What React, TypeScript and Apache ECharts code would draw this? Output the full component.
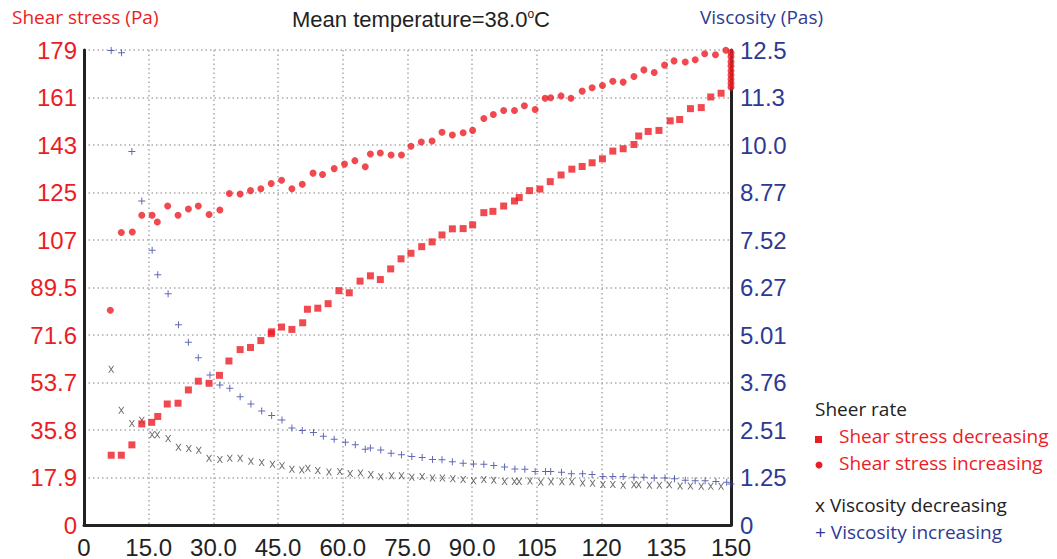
import React, { useEffect, useRef } from "react";
import * as echarts from "echarts";

// ---- Data (shear rate, s^-1) ----
const decStressX = [6.3, 8.65, 11.1, 13.4, 15.7, 17.1, 19.3, 21.8, 24.2, 26.5, 29.0, 31.4, 33.6, 36.2, 38.6, 41.0, 43.4, 43.5, 45.8, 48.2, 50.7, 51.8, 54.2, 56.6, 59.1, 61.5, 64.0, 66.4, 68.7, 71.1, 73.5, 75.8, 78.3, 80.7, 83.0, 85.4, 87.9, 90.1, 92.7, 94.8, 97.3, 99.8, 100.9, 103.3, 105.7, 108.1, 110.6, 113.1, 115.5, 117.8, 120.2, 122.6, 125.0, 127.5, 128.6, 130.8, 133.3, 135.9, 138.1, 140.6, 143.1, 145.3, 147.7];
const decStressY = [26.3, 26.3, 30.2, 38.1, 38.7, 40.9, 45.6, 45.9, 50.9, 54.2, 53.4, 56.4, 61.8, 66.1, 66.9, 69.5, 72.1, 72.8, 74.6, 73.7, 76.2, 81.3, 81.7, 83.4, 88.3, 87.5, 91.9, 93.9, 92.5, 96.5, 100.3, 102.4, 104.9, 106.7, 109.3, 111.6, 111.7, 113.1, 117.7, 118.2, 120.2, 122.1, 123.4, 126.0, 126.6, 129.4, 131.9, 134.1, 135.1, 136.5, 138.0, 140.9, 141.8, 143.4, 146.6, 148.3, 148.7, 152.3, 152.8, 156.9, 157.3, 161.3, 162.7];

const incStressX = [6.1, 8.65, 11.2, 13.4, 15.8, 17.0, 19.4, 21.8, 24.2, 26.5, 29.0, 31.5, 33.7, 36.2, 38.6, 41.0, 43.4, 45.8, 48.2, 50.6, 53.1, 55.3, 58.0, 60.4, 62.8, 65.2, 66.4, 68.7, 71.2, 73.6, 75.8, 78.2, 80.7, 83.0, 85.4, 87.9, 90.1, 92.7, 94.9, 97.3, 99.8, 102.1, 104.6, 106.9, 108.2, 110.6, 112.9, 115.5, 117.8, 120.2, 122.6, 125.0, 127.5, 129.8, 132.2, 134.6, 136.8, 139.4, 141.7, 143.9, 146.4, 148.8, 150, 150, 150, 150, 150, 150, 150, 150, 150];
const incStressY = [80.9, 110.2, 110.4, 116.7, 116.7, 114.2, 120.2, 116.7, 119.1, 120.2, 117.0, 118.7, 124.9, 124.7, 126.0, 126.7, 128.7, 129.9, 126.7, 128.4, 132.6, 132.1, 134.3, 136.0, 137.3, 135.0, 139.8, 140.2, 139.4, 139.4, 142.7, 144.3, 144.7, 148.0, 147.0, 147.8, 148.7, 153.2, 154.7, 156.2, 156.2, 158.0, 156.6, 160.8, 161.0, 161.7, 160.8, 163.5, 164.8, 165.6, 167.2, 166.9, 169.0, 171.5, 170.5, 173.3, 174.9, 174.5, 175.3, 177.6, 177.2, 178.9, 178.0, 176.5, 174.6, 173.0, 171.2, 169.6, 168.0, 166.5, 165.0];

const decViscX = [6.3, 8.65, 11.1, 13.4, 15.8, 17.0, 19.5, 21.9, 24.3, 26.6, 29.0, 31.5, 33.8, 36.2, 38.7, 41.2, 43.7, 45.9, 48.2, 50.5, 51.9, 54.2, 56.8, 59.3, 61.7, 64.1, 66.5, 68.8, 71.3, 73.6, 76.0, 78.4, 80.8, 83.1, 85.5, 87.9, 90.3, 92.7, 95.0, 97.5, 99.8, 100.9, 103.4, 105.9, 108.3, 110.8, 113.1, 115.6, 117.9, 120.3, 122.6, 125.0, 127.5, 128.6, 131.1, 133.4, 135.7, 138.2, 140.6, 143.1, 145.3, 147.7];
const decViscY = [4.11, 3.03, 2.68, 2.76, 2.38, 2.38, 2.28, 2.05, 2.02, 1.97, 1.76, 1.73, 1.76, 1.76, 1.68, 1.65, 1.60, 1.56, 1.47, 1.45, 1.50, 1.44, 1.40, 1.41, 1.36, 1.37, 1.33, 1.27, 1.30, 1.30, 1.26, 1.28, 1.24, 1.24, 1.22, 1.20, 1.17, 1.20, 1.18, 1.15, 1.15, 1.15, 1.16, 1.13, 1.14, 1.14, 1.14, 1.11, 1.10, 1.07, 1.07, 1.05, 1.06, 1.06, 1.05, 1.05, 1.06, 1.03, 1.03, 1.02, 1.02, 1.02];

const incViscX = [6.3, 8.7, 11.1, 13.4, 15.8, 17.1, 19.5, 21.9, 24.2, 26.5, 29.2, 31.5, 33.8, 36.2, 38.7, 41.2, 43.5, 45.9, 48.2, 50.6, 53.2, 55.5, 58.0, 60.6, 62.9, 65.2, 66.4, 68.8, 71.2, 73.6, 76.0, 78.4, 80.8, 83.0, 85.4, 87.9, 90.3, 92.7, 95.0, 97.5, 99.9, 102.2, 104.6, 107.0, 108.2, 110.7, 113.0, 115.6, 117.8, 120.3, 122.6, 125.0, 127.5, 129.8, 132.2, 134.7, 136.9, 139.4, 141.7, 144.0, 146.5, 149.0, 150];
const incViscY = [12.52, 12.46, 9.85, 8.55, 7.25, 6.60, 6.10, 5.28, 4.82, 4.41, 3.96, 3.69, 3.61, 3.38, 3.19, 3.01, 2.89, 2.77, 2.56, 2.49, 2.44, 2.34, 2.26, 2.18, 2.12, 2.00, 2.03, 1.98, 1.89, 1.85, 1.81, 1.78, 1.73, 1.72, 1.67, 1.63, 1.61, 1.60, 1.57, 1.53, 1.48, 1.47, 1.41, 1.41, 1.41, 1.39, 1.35, 1.35, 1.33, 1.28, 1.28, 1.28, 1.26, 1.26, 1.24, 1.24, 1.22, 1.18, 1.17, 1.17, 1.15, 1.13, 1.08];

// ---- Tick labels ----
const xTickLabels = ["0", "15.0", "30.0", "45.0", "60.0", "75.0", "90.0", "105", "120", "135", "150"];
const stressTickLabels = ["0", "17.9", "35.8", "53.7", "71.6", "89.5", "107", "125", "143", "161", "179"];
const viscTickLabels = ["0", "1.25", "2.51", "3.76", "5.01", "6.27", "7.52", "8.77", "10.0", "11.3", "12.5"];

const RED = "#ec1c24";
const BLUE = "#2e3a92";
const DARK = "#222222";

const pairs = (xs: number[], ys: number[]) => xs.map((x, i) => [x, ys[i]]);

const PLUS = "path://M0,3H7V4H0Z M3,0H4V7H3Z";
const CROSS = "path://M0,0L1.3,0L7,8L5.7,8Z M5.7,0L7,0L1.3,8L0,8Z";

export default function App() {
  const ref = useRef<HTMLDivElement>(null);
  useEffect(() => {
    if (!ref.current) return;
    const chart = echarts.init(ref.current, null, { renderer: "svg" });
    const gridLine = { show: true, lineStyle: { color: "#aaaaaa", width: 1.5, type: [1.5, 3] as any } };
    const axisFont = "'Liberation Sans', Arial, sans-serif";
    const legendFont = "'Open Sans', 'Noto Sans', sans-serif";
    const LF = 19;
    chart.setOption({
      animation: false,
      backgroundColor: "#ffffff",
      grid: { left: 84, right: 326, top: 50, bottom: 33, containLabel: false },
      xAxis: {
        type: "value",
        min: 0,
        max: 150,
        interval: 15,
        axisLine: { show: true, lineStyle: { color: DARK, width: 3 } },
        axisTick: { show: false },
        splitLine: gridLine,
        axisLabel: {
          margin: 13,
          fontSize: 24,
          lineHeight: 18,
          fontFamily: axisFont,
          color: DARK,
          formatter: (v: number) => xTickLabels[Math.round(v / 15)] ?? "",
        },
      },
      yAxis: [
        {
          type: "value",
          position: "left",
          min: 0,
          max: 179,
          interval: 17.9,
          axisLine: { show: true, lineStyle: { color: DARK, width: 3 } },
          axisTick: { show: false },
          splitLine: gridLine,
          axisLabel: {
            margin: 7,
            fontSize: 24,
            lineHeight: 20,
            fontFamily: axisFont,
            color: RED,
            formatter: (v: number) => stressTickLabels[Math.round(v / 17.9)] ?? "",
          },
        },
        {
          type: "value",
          position: "right",
          min: 0,
          max: 12.53,
          interval: 1.253,
          axisLine: { show: true, lineStyle: { color: DARK, width: 3 } },
          axisTick: { show: false },
          splitLine: { show: false },
          axisLabel: {
            margin: 9,
            fontSize: 24,
            lineHeight: 18,
            fontFamily: axisFont,
            color: BLUE,
            formatter: (v: number) => viscTickLabels[Math.round(v / 1.253)] ?? "",
          },
        },
      ],
      series: [
        {
          name: "Viscosity decreasing",
          type: "scatter",
          yAxisIndex: 1,
          symbol: CROSS,
          symbolSize: [6, 7],
          itemStyle: { color: "#444444" },
          data: pairs(decViscX, decViscY),
        },
        {
          name: "Viscosity increasing",
          type: "scatter",
          yAxisIndex: 1,
          symbol: PLUS,
          symbolSize: 7,
          itemStyle: { color: "#3b44a0" },
          data: pairs(incViscX, incViscY),
        },
        {
          name: "Shear stress decreasing",
          type: "scatter",
          yAxisIndex: 0,
          symbol: "rect",
          symbolSize: 7,
          itemStyle: { color: RED },
          data: pairs(decStressX, decStressY),
        },
        {
          name: "Shear stress increasing",
          type: "scatter",
          yAxisIndex: 0,
          symbol: "circle",
          symbolSize: 7,
          itemStyle: { color: RED },
          data: pairs(incStressX, incStressY),
        },
      ],
      graphic: [
        {
          type: "text",
          left: 12,
          top: 7,
          style: { text: "Shear stress (Pa)", fontSize: LF, fontFamily: legendFont, fill: RED },
        },
        {
          type: "text",
          left: 700,
          top: 7,
          style: { text: "Viscosity (Pas)", fontSize: LF, fontFamily: legendFont, fill: BLUE },
        },
        {
          type: "text",
          left: 292,
          top: 8,
          style: {
            text: "{a|Mean temperature=38.0}{s|o}{a|C}",
            rich: {
              a: { fontSize: 22, fontFamily: axisFont, fill: DARK, verticalAlign: "bottom" },
              s: { fontSize: 12, fontFamily: axisFont, fill: DARK, verticalAlign: "top", padding: [0, 0, 10, 0] },
            },
          },
        },
        {
          type: "text",
          left: 815,
          top: 399,
          style: { text: "Sheer rate", fontSize: LF, fontFamily: legendFont, fill: DARK },
        },
        { type: "rect", shape: { x: 815, y: 436, width: 7, height: 7 }, style: { fill: RED } },
        {
          type: "text",
          left: 839,
          top: 426,
          style: { text: "Shear stress decreasing", fontSize: LF, fontFamily: legendFont, fill: RED },
        },
        { type: "circle", shape: { cx: 819, cy: 465, r: 3.5 }, style: { fill: RED } },
        {
          type: "text",
          left: 839,
          top: 453,
          style: { text: "Shear stress increasing", fontSize: LF, fontFamily: legendFont, fill: RED },
        },
        {
          type: "text",
          left: 815,
          top: 495,
          style: { text: "x Viscosity decreasing", fontSize: LF, fontFamily: legendFont, fill: DARK },
        },
        {
          type: "text",
          left: 815,
          top: 522,
          style: { text: "+ Viscosity increasing", fontSize: LF, fontFamily: legendFont, fill: BLUE },
        },
      ],
    });
    return () => chart.dispose();
  }, []);
  return <div ref={ref} style={{ width: 1057, height: 559, position: "absolute", left: 0, top: 0 }} />;
}
